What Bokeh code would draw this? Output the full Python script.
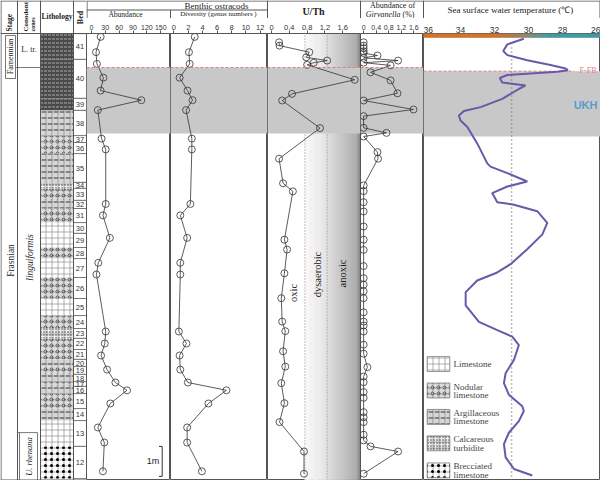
import numpy as np
from bokeh.plotting import figure
from bokeh.layouts import row, column
from bokeh.models import Range1d, FixedTicker, Span
from bokeh.core.properties import value
from bokeh.embed import file_html
from bokeh.resources import INLINE

# ---------------- data ----------------
bed_numbers = [41, 40, 39, 38, 37, 36, 35, 34, 33, 32, 31, 30, 29, 28, 27, 26, 25, 24, 23, 22, 21, 20, 19, 18, 17, 16, 15, 14, 13, 12]
bed_tops_m = [14.83, 13.97, 12.67, 12.27, 11.43, 11.20, 10.83, 9.87, 9.67, 9.27, 9.00, 8.53, 8.17, 7.70, 7.33, 6.70, 6.00, 5.43, 5.00, 4.67, 4.30, 3.97, 3.73, 3.47, 3.23, 3.07, 2.83, 2.33, 1.93, 1.07]
bed_bottoms_m = bed_tops_m[1:] + [0.0]
bed_lithology = ["dark", "dark", "dark", "argillaceous", "nodular", "nodular", "argillaceous", "turbidite",
                 "nodular", "argillaceous", "nodular", "limestone", "limestone", "nodular", "limestone",
                 "nodular", "limestone", "nodular", "turbidite", "nodular", "nodular", "argillaceous",
                 "nodular", "argillaceous", "nodular", "argillaceous", "nodular", "argillaceous",
                 "limestone", "breccia"]

ffb_height_m = 13.70
ukh_top_m = 13.70
ukh_bottom_m = 11.50
rhenana_top_m = 1.53
scale_bar_m = 1.0

ostracod_height_m = [14.72, 14.21, 13.82, 13.36, 12.93, 12.61, 12.28, 11.33, 10.97, 9.15, 8.77, 8.02,
                     7.19, 6.80, 4.90, 4.50, 4.10, 3.63, 3.20, 2.94, 2.50, 1.70, 1.20, 0.24]
ostracod_abundance = [20, 10, 12, 26, 20, 108, 14, 22, 31, 31, 25, 40, 15, 11, 31, 29, 21, 34, 52, 77, 41, 14, 28, 25]
ostracod_diversity = [2.9, 2.1, 2.2, 0.8, 1.9, 2.6, 1.7, 2.5, 2.5, 2.3, 0.9, 1.85, 0.9, 0.9, 0.7, 1.75,
                      0.8, 0.9, 1.95, 7.3, 4.8, 1.85, 1.85, 3.9]

uth_height_m = [14.54, 14.43, 14.21, 14.04, 13.93, 13.86, 13.79, 13.29, 12.82, 12.60, 11.68, 10.66, 9.84,
                9.57, 7.96, 7.63, 6.84, 6.01, 5.23, 4.91, 4.24, 3.73, 3.18, 2.51, 1.88, 0.90, 0.16]
uth_ratio = [0.17, 0.18, 0.85, 0.78, 1.25, 0.95, 0.80, 1.87, 0.46, 0.24, 1.09, 0.17, 0.26, 0.48, 0.29,
             0.35, 0.29, 0.22, 0.24, 0.31, 0.26, 0.31, 0.22, 0.29, 0.18, 0.73, 0.73]
uth_oxic_limit = 0.75
uth_anoxic_limit = 1.25

girv_height_m = [14.54, 14.43, 14.34, 14.24, 14.18, 14.10, 14.02, 13.93, 13.86, 13.77, 13.54, 13.27, 12.84,
                 12.60, 12.30, 12.08, 11.69, 11.52, 11.40, 10.88, 10.66, 9.77, 9.58, 9.21, 8.90, 8.40,
                 7.96, 7.62, 7.08, 6.68, 6.46, 6.24, 6.01, 5.54, 5.23, 5.10, 4.90, 4.46, 4.16, 3.71,
                 3.40, 3.21, 2.88, 2.69, 2.21, 2.04, 1.88, 1.46, 1.27, 1.07, 0.90, 0.16]
girv_abundance = [0, 0, 0, 0, 0, 0.44, 0, 1.10, 0, 0.86, 0.22, 0.86, 1.08, 0, 1.59, 0, 0, 0.73, 0, 0.44, 0.46,
                  0, 0, 0, 0, 0, 0, 0, 0, 0, 0, 0, 0, 0, 0, 0, 0, 0, 0,
                  0.12, 0, 0, 0, 0, 0, 0, 0, 0, 0, 0.22, 1.10, 0]

sst_height_m = [14.79, 14.60, 14.38, 14.24, 14.07, 13.91, 13.79, 13.73, 13.68, 13.62, 13.57, 13.47, 13.32,
                13.27, 13.22, 13.10, 12.77, 12.49, 12.36, 12.21, 12.04, 11.82, 11.27, 10.60, 10.49, 10.27,
                9.99, 9.82, 9.60, 9.29, 9.21, 8.99, 8.60, 8.21, 7.71, 7.21, 6.93, 6.66, 6.27, 5.82, 5.27,
                4.99, 4.77, 4.49, 3.99, 3.54, 3.21, 2.82, 2.43, 2.27, 1.93, 1.54, 1.16, 0.71, 0.32, 0.10]
sst_temp_c = [30.28, 31.25, 31.49, 31.25, 30.08, 28.71, 27.82, 27.69, 28.31, 29.88, 31.25, 31.69, 31.55,
              30.86, 30.18, 30.57, 31.55, 32.82, 33.80, 34.10, 34.00, 33.60, 33.02, 32.43, 32.24, 31.25,
              30.08, 31.25, 32.14, 31.84, 30.86, 29.49, 28.90, 29.19, 30.08, 31.06, 31.84, 33.02, 33.70,
              33.70, 32.92, 31.84, 30.96, 30.57, 30.86, 31.35, 31.45, 31.16, 30.37, 30.28, 30.57, 31.16,
              31.45, 31.35, 30.86, 29.78]
sst_reference_c = 31.0

abund_ticks = [0, 30, 60, 90, 120, 150]
div_ticks = [0, 2, 4, 6, 8, 10, 12]
uth_ticks = [0, 0.4, 0.8, 1.2, 1.6]
girv_ticks = [0, 0.4, 0.8, 1.2, 1.6]
sst_ticks = [36, 34, 32, 30, 28, 26]

legend_labels = [["Limestone"], ["Nodular", "limestone"], ["Argillaceous", "limestone"],
                 ["Calcareous", "turbidite"], ["Brecciated", "limestone"]]
legend_kinds = ["limestone", "nodular", "argillaceous", "turbidite", "breccia"]

# ---------------- styling / layout ----------------
SERIF = value("Liberation Serif")
SANS = value("Liberation Sans")
LINE = "#555555"
INK = "#222222"
BAND = "#c8c8c8"
FFB_COLOR = "#e57b7b"

PX_PER_M = 30.0
Y_ZERO_PX = 478.0
PAGE_H = 480
HEADER_H = 18


def h_at(ypx):
    return (Y_ZERO_PX - ypx) / PX_PER_M


def base_fig(width, height, xr, yr, **kw):
    p = figure(width=width, height=height, x_range=xr, y_range=yr, toolbar_location=None,
               output_backend="svg", min_border_left=0, min_border_right=0, min_border_bottom=0,
               background_fill_color="white", border_fill_color="white", **kw)
    p.grid.grid_line_color = None
    return p


def txt(p, x, y, s, size="8px", font=SERIF, style="normal", align="center", baseline="middle",
        angle=0.0, color=INK):
    p.text(x=[x], y=[y], text=[s], text_font=font, text_font_size=size, text_font_style=style,
           text_align=align, text_baseline=baseline, angle=angle, text_color=color)


def seg(p, x0, y0, x1, y1, color=LINE, width=1.0, dash="solid"):
    p.segment(x0=[x0], y0=[y0], x1=[x1], y1=[y1], line_color=color, line_width=width, line_dash=dash)


LITHO_FILL = {"dark": "#4a4a4a", "limestone": "#ffffff", "nodular": "#dadada",
              "argillaceous": "#d6d6d6", "turbidite": "#efefef", "breccia": "#ffffff"}
LITHO_OVER = {"nodular": ("ring", "#444444", 6, 0.8), "argillaceous": ("horizontal_dash", "#444444", 6, 0.9),
              "turbidite": ("dot", "#333333", 3, 0.9), "breccia": ("dot", "#000000", 6, 1.8)}


def draw_litho(p, left, right, tops, bottoms, kind, outline=None):
    if kind == "dark":
        p.quad(left=left, right=right, top=tops, bottom=bottoms, fill_color=LITHO_FILL[kind],
               line_color=None, hatch_pattern="horizontal_dash", hatch_color="#c4c4c4",
               hatch_scale=4, hatch_weight=0.8)
    else:
        p.quad(left=left, right=right, top=tops, bottom=bottoms, fill_color=LITHO_FILL[kind],
               line_color=None, hatch_pattern="cross", hatch_color="#7a7a7a",
               hatch_scale=6, hatch_weight=0.6)
    if kind in LITHO_OVER:
        pat, col, sc, w = LITHO_OVER[kind]
        p.quad(left=left, right=right, top=tops, bottom=bottoms, fill_color=None, line_color=None,
               hatch_pattern=pat, hatch_color=col, hatch_scale=sc, hatch_weight=w)
    if outline:
        p.quad(left=left, right=right, top=tops, bottom=bottoms, fill_color=None,
               line_color=outline, line_width=0.8)


# ---------------- stratigraphic columns figure ----------------
strat = base_fig(86, PAGE_H, Range1d(0, 86), Range1d(h_at(480), h_at(0)), min_border_top=0,
                 x_axis_location=None, y_axis_location=None, outline_line_color=None)

for kind in LITHO_FILL:
    idx = [i for i, k in enumerate(bed_lithology) if k == kind]
    if idx:
        draw_litho(strat, 40, 73, [bed_tops_m[i] for i in idx], [bed_bottoms_m[i] for i in idx], kind)

strat.quad(left=73, right=86, top=bed_tops_m, bottom=bed_bottoms_m, fill_color="white",
           line_color="#666666", line_width=0.8)
bed_mid = [(t + b) / 2 for t, b in zip(bed_tops_m, bed_bottoms_m)]
strat.text(x=[79.5] * len(bed_numbers), y=bed_mid, text=[str(b) for b in bed_numbers],
           text_font=SANS, text_font_size="7.5px", text_align="center", text_baseline="middle",
           text_color="#333333")

# frame lines
for xv in (0.5, 17, 40, 73):
    seg(strat, xv, h_at(0), xv, h_at(480))
seg(strat, 0, h_at(0.5), 86, h_at(0.5))
seg(strat, 0, h_at(33), 86, h_at(33))
seg(strat, 0, h_at(479.5), 86, h_at(479.5))
# boundaries in stage / zone columns
seg(strat, 15, ffb_height_m, 40, ffb_height_m, width=0.8)
seg(strat, 5, h_at(35), 15, h_at(35), width=0.8)
seg(strat, 5, h_at(35), 5, h_at(78), width=0.8)
seg(strat, 15, h_at(35), 15, h_at(78), width=0.8)
seg(strat, 5, h_at(78), 15, h_at(78), width=0.8)
seg(strat, 17, rhenana_top_m, 37, rhenana_top_m, width=0.8)
seg(strat, 19, rhenana_top_m, 19, h_at(480), width=0.8)
seg(strat, 37, rhenana_top_m, 37, h_at(480), width=0.8)

# header texts
txt(strat, 9, h_at(31), "Stage", size="7.5px", style="bold", angle=np.pi / 2, align="left")
txt(strat, 25, h_at(31), "Conodont", size="7px", style="bold", angle=np.pi / 2, align="left")
txt(strat, 32.5, h_at(31), "zones", size="6px", style="bold", angle=np.pi / 2, align="left")
txt(strat, 56.5, h_at(16), "Lithology", size="7.5px", style="bold")
txt(strat, 80, h_at(17), "Bed", size="8px", style="bold", angle=np.pi / 2)
# zone / stage names
txt(strat, 10.2, h_at(56), "Famennian", size="8px", angle=np.pi / 2)
txt(strat, 10, h_at(260), "Frasnian", size="9.5px", angle=np.pi / 2)
txt(strat, 28.5, h_at(49), "L. tr.", size="8px")
txt(strat, 29, h_at(257), "linguiformis", size="9.5px", style="italic", angle=np.pi / 2)
txt(strat, 28.5, h_at(456), "U. rhenana", size="8.5px", style="italic", angle=np.pi / 2)

# ---------------- header strip over the data panels ----------------
header = base_fig(514, HEADER_H, Range1d(86, 600), Range1d(HEADER_H, 0), min_border_top=0,
                  x_axis_location=None, y_axis_location=None, outline_line_color=None)
seg(header, 86, 0.5, 600, 0.5)
seg(header, 86, 9.5, 267, 9.5)
for xv in (86.5, 267, 360, 423, 599.5):
    seg(header, xv, 0, xv, HEADER_H)
seg(header, 170, 9.5, 170, HEADER_H)
txt(header, 216, 5, "Benthic ostracods", size="9px")
txt(header, 125, 13.5, "Abundance", size="7.5px")
txt(header, 218, 13.5, "Diversity (genus numbers )", size="7px")
txt(header, 313, 10.5, "U/Th", size="10px", style="bold")
txt(header, 392, 5, "Abundance of", size="8px")
txt(header, 400, 13.5, "Girvanella", size="8px", style="italic", align="right")
txt(header, 402, 13.5, "(%)", size="8px", align="left")
txt(header, 511, 9, "Sea  surface water temperature (\u2103)", size="9px")

# ---------------- data panels ----------------
y_main = Range1d(h_at(480), h_at(33))


def data_fig(width, xr, yr, ticks, top_border, tick_out=3, font="7.5px"):
    p = base_fig(width, PAGE_H - HEADER_H, xr, yr, min_border_top=top_border,
                 x_axis_location="above", y_axis_location=None, outline_line_color=LINE)
    ax = p.xaxis[0]
    ax.ticker = FixedTicker(ticks=ticks, minor_ticks=[])
    ax.major_tick_out = tick_out
    ax.major_tick_in = 0
    ax.major_tick_line_color = LINE
    ax.minor_tick_line_color = None
    ax.major_label_standoff = 1
    ax.major_label_text_font = "Liberation Sans"
    ax.major_label_text_font_size = font
    ax.major_label_text_color = "#333333"
    ax.axis_line_color = LINE
    return p


def px_to_x(px, left_px, width, xr):
    return xr.start + (px - left_px) / width * (xr.end - xr.start)


def band(p, xr):
    p.quad(left=xr.start, right=xr.end, bottom=ukh_bottom_m, top=ukh_top_m, fill_color=BAND,
           line_color=None)


def ffb(p):
    p.add_layout(Span(location=ffb_height_m, dimension="width", line_color=FFB_COLOR,
                      line_dash="3 2", line_width=1))


def series(p, xs, ys):
    p.line(xs, ys, line_color="#333333", line_width=0.8)
    p.scatter(xs, ys, marker="circle", size=7, fill_color=None, line_color="#333333", line_width=0.8)


def gradient(p, x0, x1, c0, c1, n, bottom, top):
    xs = np.linspace(x0, x1, n + 1)
    t = np.linspace(0, 1, n)
    cols = ["#%02x%02x%02x" % tuple(int(round(a + (b - a) * tt)) for a, b in zip(c0, c1)) for tt in t]
    p.quad(left=xs[:-1], right=xs[1:], bottom=bottom, top=top, fill_color=cols, line_color=cols,
           line_width=0.5)


# Abundance
ab_xr = Range1d(-10.5, 171)
ab = data_fig(84, ab_xr, y_main, abund_ticks, 15, font="7px")
band(ab, ab_xr)
ffb(ab)
series(ab, ostracod_abundance, ostracod_height_m)
bar_x = px_to_x(161.7, 86, 84, ab_xr)
tick_x = px_to_x(158.5, 86, 84, ab_xr)
seg(ab, bar_x, 0.07, bar_x, 0.07 + scale_bar_m, color="#333333", width=1)
seg(ab, tick_x, 0.07, bar_x, 0.07, color="#333333", width=1)
seg(ab, tick_x, 0.07 + scale_bar_m, bar_x, 0.07 + scale_bar_m, color="#333333", width=1)
txt(ab, px_to_x(152.5, 86, 84, ab_xr), 0.07 + scale_bar_m / 2, "1m", size="9px", font=SANS)

# Diversity
dv_xr = Range1d(-0.46, 13.0)
dv = data_fig(97, dv_xr, y_main, div_ticks, 15)
band(dv, dv_xr)
ffb(dv)
series(dv, ostracod_diversity, ostracod_height_m)

# U/Th
ut_xr = Range1d(-0.09, 2.0)
ut = data_fig(93, ut_xr, y_main, uth_ticks, 15)
ut.xaxis[0].major_label_overrides = {0: "0"}
gradient(ut, uth_oxic_limit, uth_anoxic_limit, (250, 248, 248), (228, 227, 227), 20, y_main.start, y_main.end)
gradient(ut, uth_anoxic_limit, 1.93, (222, 222, 222), (168, 168, 168), 30, y_main.start, y_main.end)
gradient(ut, 1.93, 2.0, (150, 150, 150), (140, 140, 140), 3, y_main.start, y_main.end)
for lim in (uth_oxic_limit, uth_anoxic_limit):
    seg(ut, lim, y_main.start, lim, y_main.end, color="#8a8a8a", width=1, dash="1 2")
band(ut, ut_xr)
ffb(ut)
txt(ut, 0.49, h_at(292.5), "oxic", size="10.5px", angle=np.pi / 2)
txt(ut, 1.03, h_at(274), "dysaerobic", size="10.5px", angle=np.pi / 2)
txt(ut, 1.59, h_at(273), "anoxic", size="10.5px", angle=np.pi / 2)
series(ut, uth_ratio, uth_height_m)

# Girvanella
gv_xr = Range1d(-0.1, 1.91)
gv = data_fig(63, gv_xr, y_main, girv_ticks, 15, font="7px")
gv.xaxis[0].major_label_overrides = {0: "0"}
band(gv, gv_xr)
ffb(gv)
series(gv, girv_abundance, girv_height_m)

# Sea surface temperature
sst_xr = Range1d(36.18, 25.77)
sst_yr = Range1d(h_at(480), h_at(29))
sst = data_fig(177, sst_xr, sst_yr, sst_ticks, 11, tick_out=0, font="8.5px")
sst.xaxis[0].axis_line_color = None
band(sst, sst_xr)
# colour bar along the top
bar_T = np.linspace(sst_xr.start, sst_xr.end, 90)
stop_T = [25.77, 28.7, 30.3, 32.0, 36.18]
stop_rgb = [(62, 150, 160), (62, 150, 160), (150, 132, 105), (205, 112, 42), (205, 112, 42)]
bar_cols = []
for tt in (bar_T[:-1] + bar_T[1:]) / 2:
    rgb = [int(round(np.interp(tt, stop_T, [c[k] for c in stop_rgb]))) for k in range(3)]
    bar_cols.append("#%02x%02x%02x" % tuple(rgb))
sst.quad(left=bar_T[:-1], right=bar_T[1:], bottom=h_at(33), top=sst_yr.end, fill_color=bar_cols,
         line_color=bar_cols, line_width=0.5)
seg(sst, sst_reference_c, sst_yr.start, sst_reference_c, h_at(40), color="#7a7a7a", width=1.5, dash="1 3")
seg(sst, sst_xr.start, ffb_height_m, px_to_x(574, 423, 177, sst_xr), ffb_height_m, color=FFB_COLOR,
    width=1, dash="3 2")
txt(sst, px_to_x(596, 423, 177, sst_xr), ffb_height_m + 0.02, "F-FB", size="8px", font=SERIF,
    align="right", color=FFB_COLOR)
txt(sst, px_to_x(597, 423, 177, sst_xr), h_at(101), "UKH", size="11px", font=SANS, style="bold",
    align="right", color="#5a9ccc")
sst.line(sst_temp_c, sst_height_m, line_color="#6a58a8", line_width=2)

# lithology legend
sw_l = px_to_x(426.7, 423, 177, sst_xr)
sw_r = px_to_x(449.3, 423, 177, sst_xr)
lab_x = px_to_x(453, 423, 177, sst_xr)
sw_top_px = [355, 381.7, 408.3, 435, 462.3]
for kind, labels, tp in zip(legend_kinds, legend_labels, sw_top_px):
    draw_litho(sst, [sw_l], [sw_r], [h_at(tp)], [h_at(tp + 15)], kind, outline="#777777")
    if len(labels) == 1:
        txt(sst, lab_x, h_at(tp + 7), labels[0], size="9px", align="left", color="#444444")
    else:
        txt(sst, lab_x, h_at(tp + 3.5), labels[0], size="9px", align="left", color="#444444")
        txt(sst, lab_x, h_at(tp + 12), labels[1], size="9px", align="left", color="#444444")

layout = row(strat, column(header, row(ab, dv, ut, gv, sst)))
open("out.html", "w").write(file_html(layout, INLINE))
